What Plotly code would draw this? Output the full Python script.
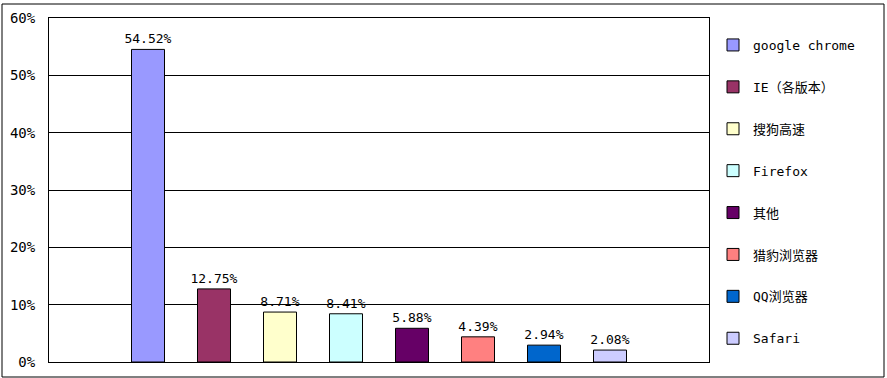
import plotly.graph_objects as go

browsers = ["google chrome", "IE（各版本）", "搜狗高速", "Firefox", "其他", "猎豹浏览器", "QQ浏览器", "Safari"]
shares = [54.52, 12.75, 8.71, 8.41, 5.88, 4.39, 2.94, 2.08]
colors = ["#9999FF", "#993366", "#FFFFCC", "#CCFFFF", "#660066", "#FF8080", "#0066CC", "#CCCCFF"]
y_ticks = [0, 10, 20, 30, 40, 50, 60]

FONT = "DejaVu Sans Mono, Noto Sans CJK SC, sans-serif"

fig = go.Figure()
for i, (name, v, c) in enumerate(zip(browsers, shares, colors)):
    fig.add_trace(go.Bar(
        x=[i], y=[v], name=name, legendgroup=name,
        marker=dict(color=c, line=dict(color="black", width=1)),
        width=0.5,
        text=[f"{v:.2f}%"], textposition="outside", cliponaxis=False,
        constraintext="none",
        textfont=dict(family=FONT, size=13, color="black"),
    ))

L, R, T, B = 49, 178, 18, 16
W, H = 887, 378
pw, ph = W - L - R, H - T - B

fig.update_layout(
    width=W, height=H,
    margin=dict(l=L, r=R, t=T, b=B, autoexpand=False),
    paper_bgcolor="white", plot_bgcolor="white",
    showlegend=True, barmode="overlay",
    font=dict(family=FONT, size=13, color="black"),
    xaxis=dict(range=[-1.5, 8.5], showticklabels=False, showgrid=False, zeroline=False,
               showline=True, linecolor="black", linewidth=1, mirror=True, ticks=""),
    yaxis=dict(range=[0, 60], tickvals=y_ticks, ticktext=[f"{t}%" for t in y_ticks],
               showgrid=True, gridcolor="black", gridwidth=1, zeroline=False,
               showline=True, linecolor="black", linewidth=1, mirror=True,
               ticks="", ticklabelstandoff=10,
               tickfont=dict(family=FONT, size=14, color="black")),
    legend=dict(xref="container", yref="container",
                x=713 / W, y=1 - 30 / H, xanchor="left", yanchor="top",
                maxheight=1.0,
                bgcolor="rgba(0,0,0,0)", borderwidth=0, tracegroupgap=22,
                font=dict(family=FONT, size=13, color="black"), itemwidth=30),
)

# outer chart border
fig.add_shape(type="rect", xref="paper", yref="paper",
              x0=(2 - L) / pw, x1=(884 - L) / pw,
              y0=1 - (377 - T) / ph, y1=1 - (4 - T) / ph,
              line=dict(color="black", width=1), fillcolor="rgba(0,0,0,0)", layer="below")

fig.write_html("out.html", config={"displayModeBar": False},
               post_script="document.body.style.margin='0';")
